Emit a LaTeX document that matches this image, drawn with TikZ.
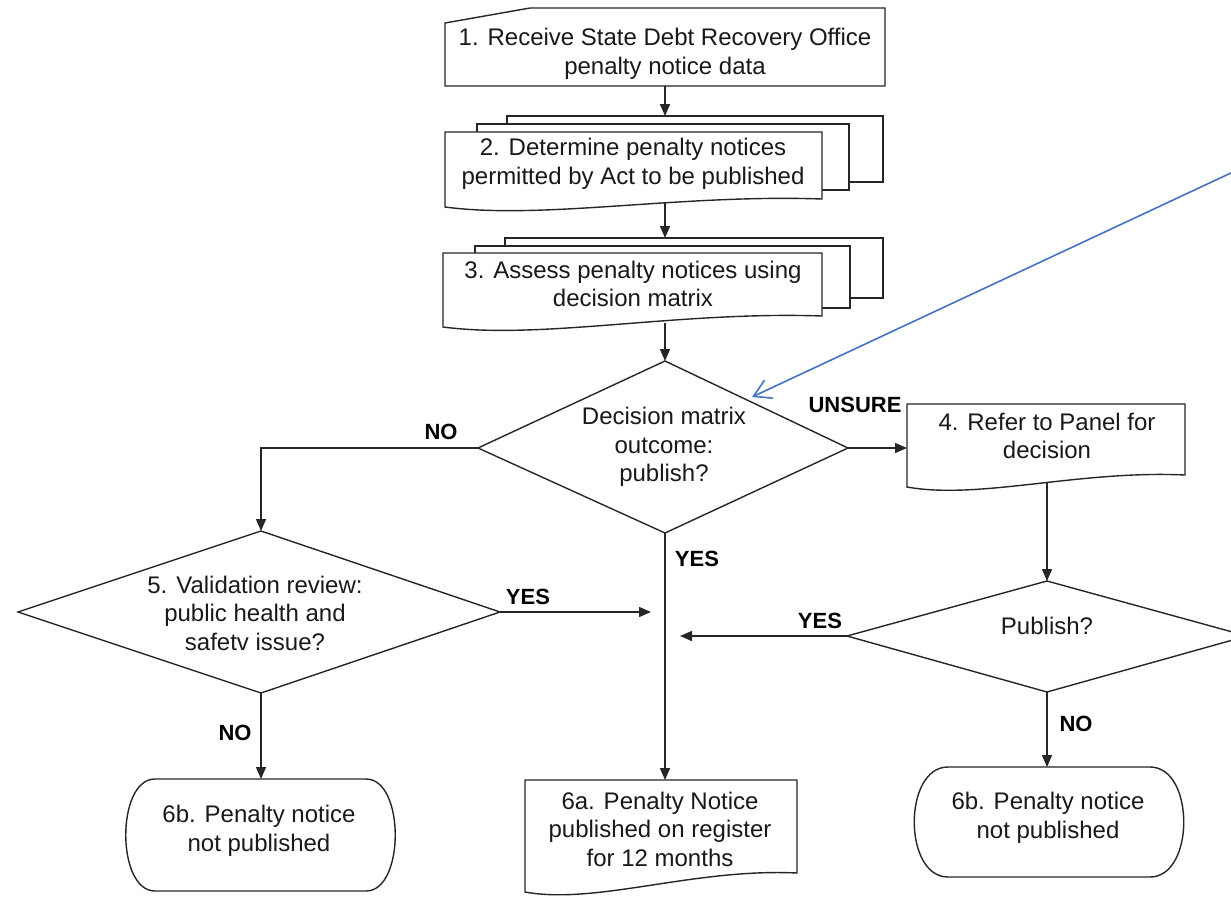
\documentclass[tikz,border=0pt]{standalone}
\usepackage{fontspec}
\setmainfont{Liberation Sans}
\usetikzlibrary{arrows.meta}
\begin{document}
\begin{tikzpicture}[x=1pt,y=-1pt,
  shp/.style={draw=black!85,line width=1.4pt,fill=white,line join=miter},
  txt/.style={font=\fontsize{24}{28.5}\selectfont,align=center,inner sep=0pt,text=black!90},
  lbl/.style={font=\fontsize{22}{24}\selectfont\bfseries,inner sep=0pt},
  conn/.style={draw=black!85,line width=1.4pt,-{Triangle[length=12pt,width=10pt]}},
  pointer/.style={draw={rgb,255:red,68;green,114;blue,196},line width=1.6pt,-{Straight Barb[length=17pt,width=20pt]}}
]
\useasboundingbox (0,0) rectangle (1231,899);
\clip (0,0) rectangle (1231,899);
\fill[white] (0,0) rectangle (1231,899);

% Box 1 (manual input)
\draw[shp] (445,23) -- (530,8) -- (885,8) -- (885,86) -- (445,86) -- cycle;
\node[txt] (b1) at (665,54) {1. Receive State Debt Recovery Office\\penalty notice data};
\coordinate (b1s) at (665,86);

% Box 2 (multi-document)
\draw[shp] (507,116) rectangle (883,182);
\draw[shp] (477,124) rectangle (849,190);
\draw[shp] (445,132) -- (822,132) -- (822,199) .. controls (679,194) and (543,220) .. (445,207) -- cycle;
\node[txt] (b2) at (633,164) {2. Determine penalty notices\\permitted by Act to be published};
\coordinate (b2n) at (665,116);
\coordinate (b2s) at (665,203);

% Box 3 (multi-document)
\draw[shp] (505,238) rectangle (883,298);
\draw[shp] (475,246) rectangle (850,308);
\draw[shp] (443,253) -- (822,253) -- (822,316) .. controls (678,311) and (542,340) .. (443,327) -- cycle;
\node[txt] (b3) at (633,284) {3. Assess penalty notices using\\decision matrix};
\coordinate (b3n) at (665,238);
\coordinate (b3s) at (665,323);

% Diamond 1
\draw[shp] (665,361) -- (848,448) -- (665,533) -- (478,448) -- cycle;
\node[txt] (d1) at (664,447) {Decision matrix\\outcome:\\publish?};
\coordinate (d1n) at (665,361);
\coordinate (d1e) at (848,448);
\coordinate (d1s) at (665,533);
\coordinate (d1w) at (478,448);

% Box 4 (document)
\draw[shp] (907,404) -- (1185,404) -- (1185,475) .. controls (1079,470) and (979,500) .. (907,487) -- cycle;
\node[txt] (b4) at (1047,436) {4. Refer to Panel for\\decision};
\coordinate (b4w) at (907,448);
\coordinate (b4s) at (1047,482);

% Diamond 5
\draw[shp] (261,531) -- (500,612) -- (261,693) -- (18,612) -- cycle;
\node[txt] (d5) at (255,613) {5. Validation review:\\public health and\\safetv issue?};
\coordinate (d5n) at (261,531);
\coordinate (d5e) at (500,612);
\coordinate (d5s) at (261,693);

% Publish diamond
\draw[shp] (1047,581) -- (1247,636) -- (1047,692) -- (847,636) -- cycle;
\node[txt] (pub) at (1047,626) {Publish?};
\coordinate (pubn) at (1047,581);
\coordinate (pubw) at (847,636);
\coordinate (pubs) at (1047,692);

% Terminal 6b left
\draw[shp] (155,779) -- (366,779) .. controls (405,779) and (405,891) .. (366,891) -- (155,891) .. controls (116,891) and (116,779) .. (155,779) -- cycle;
\node[txt] (t6bl) at (259,831) {6b. Penalty notice\\not published};
\coordinate (t6bln) at (261,779);

% Document 6a
\draw[shp] (525,780) -- (797,780) -- (797,873) .. controls (694,868) and (596,905) .. (525,892) -- cycle;
\node[txt] (t6a) at (660,829) {6a. Penalty Notice\\published on register\\for 12 months};
\coordinate (t6an) at (665,780);

% Terminal 6b right
\draw[shp] (948,767) -- (1150,767) .. controls (1195,767) and (1195,877) .. (1150,877) -- (948,877) .. controls (903,877) and (903,767) .. (948,767) -- cycle;
\node[txt] (t6br) at (1048,818) {6b. Penalty notice\\not published};
\coordinate (t6brn) at (1047,767);

% free ends
\coordinate (yes1end) at (651,612);
\coordinate (yes2end) at (680,636);
\coordinate (ptrstart) at (1233,172);
\coordinate (ptrend) at (752,397);

% Connectors
\draw[conn] (b1s) -- (b2n);
\draw[conn] (b2s) -- (b3n);
\draw[conn] (b3s) -- (d1n);
\draw[conn] (d1w) -| (d5n);
\draw[conn] (d1e) -- (b4w);
\draw[conn] (b4s) -- (pubn);
\draw[conn] (d1s) -- (t6an);
\draw[conn] (d5e) -- (yes1end);
\draw[conn] (pubw) -- (yes2end);
\draw[conn] (d5s) -- (t6bln);
\draw[conn] (pubs) -- (t6brn);
\draw[pointer] (ptrstart) -- (ptrend);

% Labels
\node[lbl] (lno1) at (441,432) {NO};
\node[lbl] (lunsure) at (855,405) {UNSURE};
\node[lbl] (lyes1) at (697,559) {YES};
\node[lbl] (lyes2) at (528,597) {YES};
\node[lbl] (lyes3) at (820,621) {YES};
\node[lbl] (lno2) at (235,733) {NO};
\node[lbl] (lno3) at (1076,724) {NO};
\end{tikzpicture}
\end{document}
